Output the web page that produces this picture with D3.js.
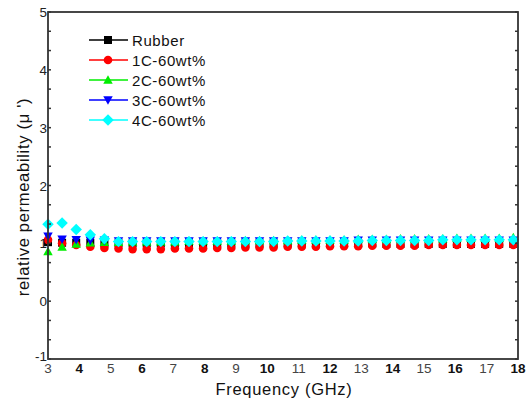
<!DOCTYPE html>
<html>
<head>
<meta charset="utf-8">
<script src="https://cdn.jsdelivr.net/npm/d3@7"></script>
<style>
  html, body { margin: 0; padding: 0; background: #fff; }
  svg { display: block; font-family: "Liberation Sans", Arial, sans-serif; }
</style>
</head>
<body>
<div id="chart"></div>
<script>
const freq = [3.00, 3.45, 3.90, 4.35, 4.80, 5.25, 5.70, 6.15, 6.60, 7.05, 7.50, 7.95, 8.40, 8.85, 9.30, 9.75, 10.20, 10.65, 11.10, 11.55, 12.00, 12.45, 12.90, 13.35, 13.80, 14.25, 14.70, 15.15, 15.60, 16.05, 16.50, 16.95, 17.40, 17.85];

const rubber = [1.02, 1.01, 1.01, 1.01, 1.00, 1.00, 1.00, 1.00, 1.00, 1.00, 1.00, 1.00, 1.00, 1.00, 1.00, 1.00, 1.00, 1.00, 1.00, 1.00, 1.00, 1.00, 1.00, 1.00, 0.99, 0.99, 0.99, 0.99, 0.99, 0.99, 0.99, 0.99, 0.99, 0.99];
const c1 = [1.06, 1.00, 0.97, 0.94, 0.92, 0.91, 0.90, 0.90, 0.90, 0.91, 0.91, 0.91, 0.92, 0.92, 0.93, 0.93, 0.93, 0.94, 0.94, 0.94, 0.95, 0.95, 0.95, 0.96, 0.96, 0.96, 0.96, 0.97, 0.97, 0.97, 0.97, 0.97, 0.97, 0.97];
const c2 = [0.86, 0.94, 0.99, 1.01, 1.02, 1.02, 1.03, 1.03, 1.03, 1.03, 1.04, 1.04, 1.04, 1.04, 1.05, 1.05, 1.05, 1.05, 1.06, 1.06, 1.06, 1.06, 1.07, 1.07, 1.07, 1.08, 1.08, 1.08, 1.08, 1.09, 1.09, 1.09, 1.09, 1.10];
const c3 = [1.12, 1.07, 1.06, 1.05, 1.05, 1.04, 1.04, 1.04, 1.04, 1.04, 1.04, 1.04, 1.04, 1.04, 1.04, 1.04, 1.04, 1.04, 1.04, 1.04, 1.04, 1.04, 1.05, 1.05, 1.05, 1.05, 1.05, 1.05, 1.05, 1.05, 1.05, 1.05, 1.05, 1.05];
const c4 = [1.33, 1.35, 1.24, 1.15, 1.08, 1.03, 1.03, 1.03, 1.03, 1.03, 1.03, 1.03, 1.03, 1.03, 1.03, 1.03, 1.03, 1.04, 1.04, 1.04, 1.04, 1.04, 1.04, 1.05, 1.05, 1.05, 1.05, 1.05, 1.06, 1.06, 1.06, 1.06, 1.06, 1.06];

const seriesNames = ["Rubber", "1C-60wt%", "2C-60wt%", "3C-60wt%", "4C-60wt%"];
const seriesColors = ["#000000", "#ff0000", "#00ee00", "#0000ff", "#00ffff"];
const seriesSymbols = ["square", "circle", "triangle", "triangleDown", "diamond"];
const seriesValues = [rubber, c1, c2, c3, c4];

const xTicks = [3, 4, 5, 6, 7, 8, 9, 10, 11, 12, 13, 14, 15, 16, 17, 18];
const yTicks = [-1, 0, 1, 2, 3, 4, 5];

const W = 532, H = 401;
const pLeft = 48, pRight = 518, pTop = 12, pBottom = 359;

const svg = d3.select("#chart").append("svg").attr("width", W).attr("height", H);

const x = d3.scaleLinear().domain([3, 18]).range([pLeft, pRight]);
const y = d3.scaleLinear().domain([-1, 5]).range([pBottom, pTop]);

function symbolPath(kind, s) {
  switch (kind) {
    case "square": return `M${-s},${-s}H${s}V${s}H${-s}Z`;
    case "circle": return d3.symbol().type(d3.symbolCircle).size(Math.PI * s * s)();
    case "triangle": return `M0,${-s * 1.05}L${s * 1.05},${s * 0.85}L${-s * 1.05},${s * 0.85}Z`;
    case "triangleDown": return `M0,${s * 1.05}L${s * 1.05},${-s * 0.85}L${-s * 1.05},${-s * 0.85}Z`;
    case "diamond": return `M0,${-s * 1.3}L${s * 1.3},0L0,${s * 1.3}L${-s * 1.3},0Z`;
  }
}
const symSize = [4, 4.3, 4.5, 4.5, 4.4];

// data markers
seriesValues.forEach((vals, si) => {
  const g = svg.append("g");
  g.selectAll("path")
    .data(vals.map((v, i) => [freq[i], v]))
    .join("path")
    .attr("d", symbolPath(seriesSymbols[si], symSize[si]))
    .attr("transform", d => `translate(${x(d[0])},${y(d[1])})`)
    .attr("fill", seriesColors[si]);
});

// frame
const axisColor = "#333";
svg.append("rect")
  .attr("x", pLeft).attr("y", pTop)
  .attr("width", pRight - pLeft).attr("height", pBottom - pTop)
  .attr("fill", "none").attr("stroke", axisColor).attr("stroke-width", 1.8);

// y ticks (major + minor at 1/3), inward on left and right
const yMinor = d3.range(-1, 5.0001, 1 / 3);
yMinor.forEach(v => {
  svg.append("line").attr("x1", pLeft).attr("x2", pLeft + 3).attr("y1", y(v)).attr("y2", y(v))
    .attr("stroke", axisColor).attr("stroke-width", 1.5);
  svg.append("line").attr("x1", pRight).attr("x2", pRight - 3).attr("y1", y(v)).attr("y2", y(v))
    .attr("stroke", axisColor).attr("stroke-width", 1.5);
});

// y tick labels
svg.append("g").selectAll("text").data(yTicks).join("text")
  .attr("x", pLeft - 1)
  .attr("y", d => (d === -1 ? y(d) + 2 : y(d) + 5))
  .attr("text-anchor", "end")
  .attr("font-size", 13.5)
  .attr("fill", "#222")
  .text(d => d);

// x tick labels
svg.append("g").selectAll("text").data(xTicks).join("text")
  .attr("x", d => x(d))
  .attr("y", pBottom + 14)
  .attr("text-anchor", "middle")
  .attr("font-size", 13.5)
  .attr("font-weight", d => (d % 2 === 0 ? "bold" : "normal"))
  .attr("fill", d => (d % 2 === 0 ? "#111" : "#444"))
  .text(d => d);

// axis titles
svg.append("text")
  .attr("x", 284)
  .attr("y", 395)
  .attr("text-anchor", "middle")
  .attr("font-size", 16.5)
  .attr("letter-spacing", 0.7)
  .attr("fill", "#111")
  .text("Frequency  (GHz)");

svg.append("text")
  .attr("transform", `translate(29,197) rotate(-90)`)
  .attr("text-anchor", "middle")
  .attr("font-size", 16.5)
  .attr("letter-spacing", 0.7)
  .attr("fill", "#111")
  .text("relative permeability (\u03bc ')");

// legend
const legY0 = 40, legDy = 20;
seriesNames.forEach((name, i) => {
  const yy = legY0 + i * legDy;
  const g = svg.append("g");
  g.append("line").attr("x1", 89).attr("x2", 128).attr("y1", yy).attr("y2", yy)
    .attr("stroke", seriesColors[i]).attr("stroke-width", 1.6);
  g.append("path").attr("d", symbolPath(seriesSymbols[i], symSize[i]))
    .attr("transform", `translate(108,${yy})`).attr("fill", seriesColors[i]);
  g.append("text").attr("x", 132).attr("y", yy + 5.5)
    .attr("font-size", 15).attr("letter-spacing", 0.6)
    .attr("fill", "#111").text(name);
});
</script>
</body>
</html>
